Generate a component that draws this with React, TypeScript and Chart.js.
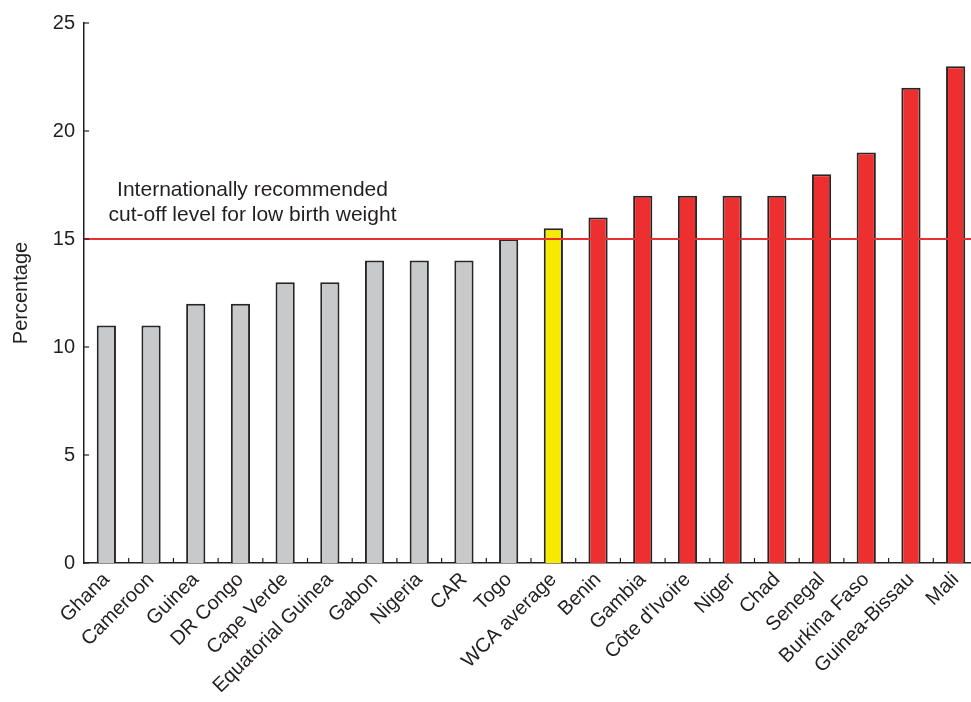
import React, { useEffect, useRef } from "react";
import { Chart, registerables } from "chart.js";

Chart.register(...registerables);

const categories = [
  "Ghana", "Cameroon", "Guinea", "DR Congo", "Cape Verde", "Equatorial Guinea",
  "Gabon", "Nigeria", "CAR", "Togo", "WCA average", "Benin", "Gambia",
  "Côte d'Ivoire", "Niger", "Chad", "Senegal", "Burkina Faso", "Guinea-Bissau", "Mali",
];
const values = [11, 11, 12, 12, 13, 13, 14, 14, 14, 15, 15.5, 16, 17, 17, 17, 17, 18, 19, 22, 23];
// group: 0 = below cut-off, 1 = regional average, 2 = above cut-off
const groups = [0, 0, 0, 0, 0, 0, 0, 0, 0, 0, 1, 2, 2, 2, 2, 2, 2, 2, 2, 2];
const yTicks = [0, 5, 10, 15, 20, 25];
const cutoff = 15;
const annotationLines = ["Internationally recommended", "cut-off level for low birth weight"];
const annotationAnchor = { x: 3.27, y: [17.25, 16.1] };

const groupColors = ["#c8c9cb", "#f6ea00", "#ee2f30"];
const INK = "#231f20";
const FONT = "'Liberation Sans', Arial, Helvetica, sans-serif";

export default function App() {
  const ref = useRef<HTMLCanvasElement | null>(null);

  useEffect(() => {
    if (!ref.current) return;

    const overlay = {
      id: "overlay",
      afterDatasetsDraw(chart: any) {
        const { ctx, chartArea, scales } = chart;
        const x = scales.x;
        const y = scales.y;
        ctx.save();
        // cut-off line
        ctx.strokeStyle = "#e8302e";
        ctx.lineWidth = 2;
        const yc = y.getPixelForValue(cutoff);
        ctx.beginPath();
        ctx.moveTo(chartArea.left, yc);
        ctx.lineTo(chart.width, yc);
        ctx.stroke();
        // inward ticks
        ctx.strokeStyle = INK;
        ctx.lineWidth = 1.2;
        const step = x.getPixelForValue(1) - x.getPixelForValue(0);
        for (let i = 1; i <= categories.length; i++) {
          const bx = x.getPixelForValue(i - 1) + step / 2;
          ctx.beginPath();
          ctx.moveTo(bx, chartArea.bottom);
          ctx.lineTo(bx, chartArea.bottom - 5);
          ctx.stroke();
        }
        for (const v of yTicks) {
          const py = y.getPixelForValue(v);
          ctx.beginPath();
          ctx.moveTo(chartArea.left, py);
          ctx.lineTo(chartArea.left + 5, py);
          ctx.stroke();
        }
        // annotation
        ctx.fillStyle = INK;
        ctx.font = `21px ${FONT}`;
        ctx.textAlign = "center";
        ctx.textBaseline = "middle";
        const ax = x.getPixelForValue(annotationAnchor.x);
        annotationLines.forEach((t, i) => {
          ctx.fillText(t, ax, y.getPixelForValue(annotationAnchor.y[i]));
        });
        ctx.restore();
      },
    };

    const chart = new Chart(ref.current, {
      type: "bar",
      data: {
        labels: categories,
        datasets: [
          {
            data: values,
            backgroundColor: groups.map((g) => groupColors[g]),
            borderColor: "#262626",
            borderWidth: 2,
            barPercentage: 0.43,
            categoryPercentage: 1,
          },
        ],
      },
      options: {
        responsive: false,
        animation: false,
        layout: { padding: { top: 23, right: 12, left: 0, bottom: 0 } },
        plugins: { legend: { display: false }, tooltip: { enabled: false } },
        scales: {
          x: {
            grid: { display: false, drawTicks: false },
            border: { display: true, color: INK, width: 1.5 },
            ticks: {
              color: INK,
              font: { family: FONT, size: 20 },
              minRotation: 45,
              maxRotation: 45,
              autoSkip: false,
              padding: 5,
            },
            afterFit(scale: any) {
              scale.height = 139;
            },
          },
          y: {
            min: 0,
            max: 25,
            grid: { display: false, drawTicks: false },
            border: { display: true, color: INK, width: 1.5 },
            afterBuildTicks(scale: any) {
              scale.ticks = yTicks.map((v) => ({ value: v }));
            },
            ticks: {
              color: INK,
              font: { family: FONT, size: 20 },
              padding: 9,
            },
            title: {
              display: true,
              text: "Percentage",
              color: INK,
              font: { family: FONT, size: 20 },
              padding: { top: 9, bottom: 0 },
            },
            afterFit(scale: any) {
              scale.width = 84;
            },
          },
        },
      },
      plugins: [overlay],
    });

    return () => chart.destroy();
  }, []);

  return (
    <div
      style={{
        position: "fixed",
        left: 0,
        top: 0,
        width: 971,
        height: 702,
        overflow: "hidden",
        background: "#fff",
      }}
    >
      <canvas ref={ref} width={990} height={702} style={{ width: 990, height: 702, display: "block" }} />
    </div>
  );
}
